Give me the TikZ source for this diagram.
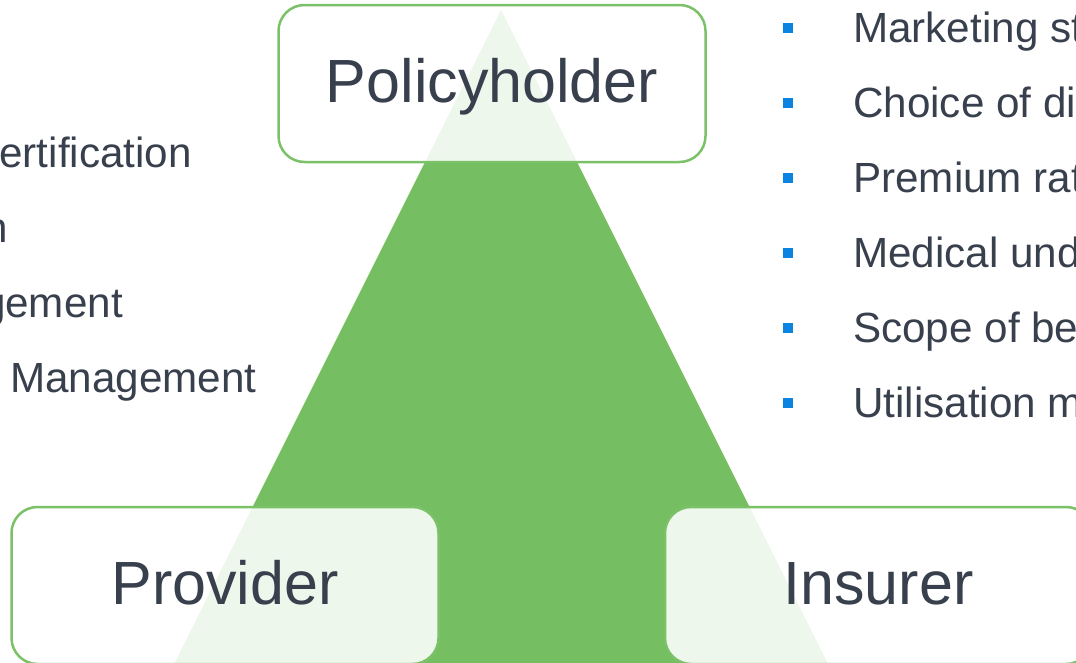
\documentclass[tikz,border=0pt]{standalone}
\usepackage{fontspec}
\setmainfont{Liberation Sans}
\definecolor{tri}{RGB}{117,191,98}
\definecolor{edge}{RGB}{122,193,104}
\definecolor{ink}{RGB}{56,64,77}
\definecolor{bul}{RGB}{10,132,224}
\begin{document}
\begin{tikzpicture}[x=1pt,y=-1pt,
  role/.style={draw=edge, line width=2.5pt, rounded corners=26pt,
    fill=white, fill opacity=0.88, text opacity=1, text=ink,
    minimum width=427pt, minimum height=157pt, inner sep=0pt,
    font=\fontsize{61}{61}\selectfont, text height=43pt, text depth=6pt},
  item/.style={text=ink, font=\fontsize{42.2}{42.2}\selectfont, inner sep=0pt},
  bulletbox/.style={fill=bul, minimum size=10pt, inner sep=0pt}]
\useasboundingbox (0,0) rectangle (1076,662);
\clip (0,0) rectangle (1076,662);
% central triangle
\fill[tri] (501,10) -- (166,680) -- (836,680) -- cycle;
% the three parties
\node[role] (policy) at (492,83.5) {Policyholder};
\node[role] (provider) at (225,585.5) {Provider};
\node[role] (insurer) at (878.5,585.5) {Insurer};
% provider-side list
\node[item, anchor=base east] (l1) at (192,167) {ertification};
\node[item, anchor=base east] (l2) at (8,242) {n};
\node[item, anchor=base east] (l3) at (123,317) {gement};
\node[item, anchor=base west] (l4) at (10,392) {Management};
% insurer-side list
\foreach \t [count=\i from 0] in {Marketing st,Choice of di,Premium rat,Medical und,Scope of be,Utilisation m}{
  \node[bulletbox] (b\i) at (788,28+75*\i) {};
  \node[item, anchor=base west] (r\i) at (853,42+75*\i) {\t};
}
\end{tikzpicture}
\end{document}
